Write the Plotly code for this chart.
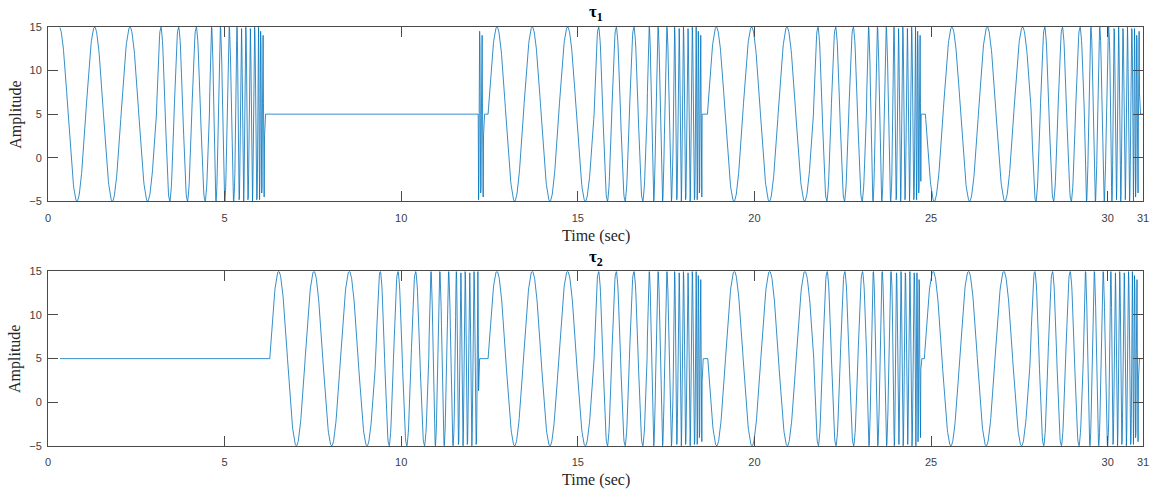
import numpy as np
import plotly.graph_objects as go

# ---------------- values ----------------
OFFSET = 5            # hold level between sweeps
AMPLITUDE = 10        # swing: -5 .. 15
STEP_FREQS_HZ = [1, 2, 4, 8, 16]   # stepped tones inside each sweep
STEP_CYCLES = [3, 3, 3, 5, 3]      # cycles spent on each tone
SAMPLE_DT = 0.01
T_FIRST, T_LAST = 0.34, 31.0

tau1_sweep_start = [0.07, 6.27, 12.46, 18.67, 24.84]
tau1_sweep_shown = [0.07, 12.19, 12.46, 18.67, 24.84]
tau1_sweep_end = [6.15, 12.34, 18.52, 24.72, 31.0]
tau1_sweep_sign = [1, 1, 1, 1, -1]

tau2_sweep_start = [6.28, 12.46, 18.68, 24.81]
tau2_sweep_shown = [6.28, 12.46, 18.68, 24.81]
tau2_sweep_end = [12.2, 18.53, 24.72, 31.0]
tau2_sweep_sign = [1, 1, -1, 1]

x_tick_vals = [0, 5, 10, 15, 20, 25, 30, 31]
y_tick_vals = [-5, 0, 5, 10, 15]
titles = ["<b>τ<sub>1</sub></b>", "<b>τ<sub>2</sub></b>"]
x_title = "Time (sec)"
y_title = "Amplitude"


def build_signal(starts, shown, ends, signs):
    t = np.arange(T_FIRST, T_LAST + 1e-9, SAMPLE_DT)
    y = np.full_like(t, float(OFFSET))
    durs = [c / f for c, f in zip(STEP_CYCLES, STEP_FREQS_HZ)]
    bounds = np.concatenate([[0.0], np.cumsum(durs)])
    for s, sh, e, sg in zip(starts, shown, ends, signs):
        m = (t >= sh) & (t <= e)
        local = t[m] - s
        vals = np.full(local.shape, float(OFFSET))
        for k, f in enumerate(STEP_FREQS_HZ):
            mk = (local >= bounds[k]) & (local < bounds[k + 1])
            vals[mk] = OFFSET + sg * AMPLITUDE * np.sin(2 * np.pi * f * (local[mk] - bounds[k]))
        y[m] = vals
    return t, y


t1, y1 = build_signal(tau1_sweep_start, tau1_sweep_shown, tau1_sweep_end, tau1_sweep_sign)
t2, y2 = build_signal(tau2_sweep_start, tau2_sweep_shown, tau2_sweep_end, tau2_sweep_sign)

LINE_COLOR = "#0072BD"
AX_COLOR = "#4a4a4a"
TICK_FONT = dict(family="Liberation Sans, Arial, sans-serif", size=11, color="#404040")
SERIF = "Liberation Serif, Times New Roman, serif"

fig = go.Figure()
fig.add_trace(go.Scatter(x=t1, y=y1, mode="lines", line=dict(color=LINE_COLOR, width=0.8),
                         xaxis="x", yaxis="y", showlegend=False, hoverinfo="skip"))
fig.add_trace(go.Scatter(x=t2, y=y2, mode="lines", line=dict(color=LINE_COLOR, width=0.8),
                         xaxis="x2", yaxis="y2", showlegend=False, hoverinfo="skip"))

common_x = dict(range=[0, 31], tickvals=x_tick_vals, ticks="inside", ticklen=10,
                tickcolor=AX_COLOR, showline=True, linecolor=AX_COLOR, linewidth=1,
                mirror="ticks", showgrid=False, zeroline=False, tickfont=TICK_FONT,
                ticklabelstandoff=6, automargin=False)
common_y = dict(range=[-5, 15], tickvals=y_tick_vals, ticks="inside", ticklen=10,
                tickcolor=AX_COLOR, showline=True, linecolor=AX_COLOR, linewidth=1,
                mirror="ticks", showgrid=False, zeroline=False, tickfont=TICK_FONT,
                ticklabelstandoff=3, automargin=False)

fig.update_layout(
    width=1152, height=491,
    margin=dict(l=48, r=9, t=27, b=45),
    paper_bgcolor="white", plot_bgcolor="white",
    xaxis=dict(domain=[0, 1], anchor="y", **common_x),
    yaxis=dict(domain=[0.584, 1], anchor="x", **common_y),
    xaxis2=dict(domain=[0, 1], anchor="y2", **common_x),
    yaxis2=dict(domain=[0, 0.417], anchor="x2", **common_y),
)

ann = []
for txt, yc in zip(titles, [1.033, 0.449]):
    ann.append(dict(text=txt, x=0.5, y=yc, xref="paper", yref="paper",
                    xanchor="center", yanchor="middle", showarrow=False,
                    font=dict(family=SERIF, size=17, color="black")))
for yc in [0.501, -0.081]:
    ann.append(dict(text=x_title, x=0.5, y=yc, xref="paper", yref="paper",
                    xanchor="center", yanchor="middle", showarrow=False,
                    font=dict(family=SERIF, size=16, color="#262626")))
for yc in [0.791, 0.208]:
    ann.append(dict(text=y_title, x=-0.030, y=yc, xref="paper", yref="paper", textangle=-90,
                    xanchor="center", yanchor="middle", showarrow=False,
                    font=dict(family=SERIF, size=16, color="#262626")))
fig.update_layout(annotations=ann)

# remove the default 8px page margin so the figure fills the window exactly
fig.write_html("out.html",
               config={"displayModeBar": False},
               post_script="document.body.style.margin='0px';document.body.style.overflow='hidden';")
